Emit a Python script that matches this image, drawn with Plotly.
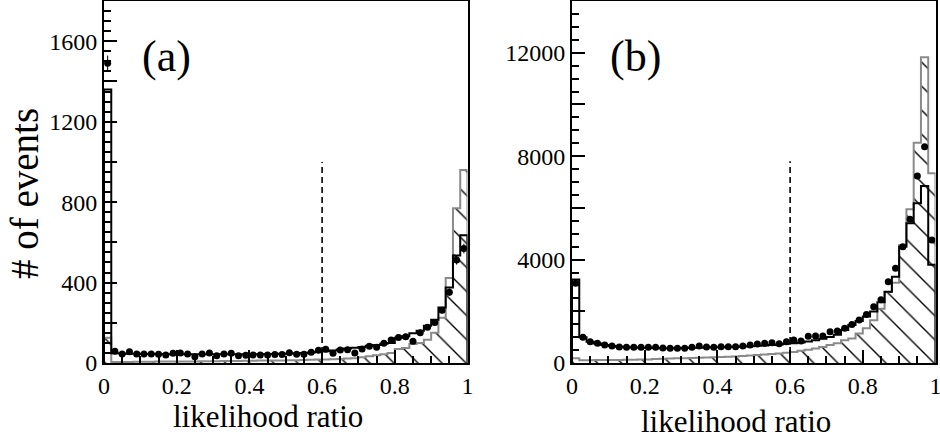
import numpy as np
import plotly.graph_objects as go

# bin edges of the likelihood ratio histograms (50 bins)
edges = np.linspace(0, 1, 51)
centers = (edges[:-1] + edges[1:]) / 2
cut = 0.6

# panel (a)
data_a = [1490, 59, 45, 56, 45, 45, 45, 43, 40, 48,
          50, 45, 31, 45, 50, 36, 45, 48, 36, 38,
          40, 40, 40, 42, 42, 51, 43, 43, 53, 64,
          68, 48, 65, 66, 50, 70, 83, 78, 98, 114,
          127, 131, 108, 151, 178, 201, 262, 352, 512, 569]
mc_a = [1360, 48, 47, 46, 46, 45, 45, 45, 44, 44,
        44, 44, 43, 43, 43, 43, 43, 43, 43, 44,
        44, 44, 45, 45, 46, 47, 48, 50, 52, 55,
        58, 62, 67, 72, 76, 80, 86, 90, 96, 100,
        125, 133, 148, 160, 185, 215, 276, 376, 535, 635]
sig_a = [125, 5, 5, 5, 6, 6, 6, 7, 7, 7,
         8, 8, 8, 9, 9, 9, 10, 10, 10, 11,
         11, 12, 12, 13, 13, 14, 14, 15, 16, 17,
         18, 19, 20, 22, 23, 28, 33, 38, 44, 50,
         70, 75, 95, 100, 115, 150, 225, 423, 770, 960]
cut_height_a = 1000

# panel (b)
data_b = [3080, 994, 824, 760, 696, 657, 620, 607, 607, 607,
          607, 607, 580, 568, 568, 575, 610, 657, 615, 610,
          630, 630, 630, 657, 696, 735, 760, 786, 740, 824,
          889, 850, 1030, 1040, 1044, 1210, 1240, 1340, 1490, 1663,
          1875, 2180, 2450, 3144, 3662, 4497, 5557, 7231, 8364, 4756]
mc_b = [3230, 1000, 820, 750, 700, 660, 630, 610, 600, 590,
        585, 580, 575, 575, 575, 580, 585, 590, 600, 605,
        610, 620, 630, 640, 650, 665, 680, 700, 720, 740,
        760, 790, 830, 880, 940, 1010, 1090, 1280, 1470, 1620,
        1800, 1990, 2350, 2760, 3340, 4500, 5400, 6180, 6850, 3800]
sig_b = [180, 110, 110, 115, 115, 120, 120, 125, 130, 135,
         140, 150, 160, 170, 180, 185, 190, 200, 210, 220,
         230, 240, 255, 270, 290, 310, 330, 350, 370, 400,
         430, 470, 510, 560, 620, 700, 760, 880, 950, 1140,
         1340, 1650, 2100, 2750, 3100, 4560, 5950, 8520, 11820, 7340]
cut_height_b = 7800

FONT = "Liberation Serif, Times New Roman, serif"


def step(vals):
    # closed step outline of a histogram
    x = np.concatenate([[edges[0]], edges, [edges[-1]]])
    y = np.concatenate([[0], vals, [vals[-1], 0]])
    return x, y


fig = go.Figure()

panels = [
    (data_a, mc_a, sig_a, cut_height_a, "x", "y"),
    (data_b, mc_b, sig_b, cut_height_b, "x2", "y2"),
]
for data, mc, sig, cut_h, xa, ya in panels:
    sx, sy = step(sig)
    fig.add_trace(go.Scatter(
        x=sx, y=sy, mode="lines", line=dict(color="#8a8a8a", width=2, shape="hv"),
        fill="tozeroy", fillcolor="rgba(0,0,0,0)",
        fillpattern=dict(shape="\\", fgcolor="black", bgcolor="rgba(0,0,0,0)",
                         size=17, solidity=0.08, fillmode="replace"),
        xaxis=xa, yaxis=ya, showlegend=False,
    ))
    mx, my = step(mc)
    fig.add_trace(go.Scatter(
        x=mx, y=my, mode="lines", line=dict(color="black", width=2, shape="hv"),
        xaxis=xa, yaxis=ya, showlegend=False,
    ))
    fig.add_trace(go.Scatter(
        x=[cut, cut], y=[0, cut_h], mode="lines",
        line=dict(color="black", width=1.6, dash="6px,4px"),
        xaxis=xa, yaxis=ya, showlegend=False,
    ))
    fig.add_trace(go.Scatter(
        x=centers, y=data, mode="markers",
        marker=dict(color="black", size=7),
        error_y=dict(type="data", array=np.sqrt(data), color="black", thickness=1, width=0),
        xaxis=xa, yaxis=ya, showlegend=False,
    ))

xcommon = dict(range=[0, 1], tick0=0, dtick=0.2, ticks="inside", ticklen=13, tickwidth=2,
               tickcolor="black", showline=True, linecolor="black", linewidth=2, mirror=True,
               showgrid=False, zeroline=False, automargin=False, ticklabeloverflow="allow",
               tickfont=dict(family=FONT, size=24, color="black"),
               minor=dict(tickmode="linear", tick0=0, dtick=0.05, ticks="inside",
                          ticklen=7, tickwidth=2, tickcolor="black", showgrid=False))


def yaxis_opts(top, major, label_step, minor_step):
    vals = list(range(0, top + 1, major))
    text = [str(v) if v % label_step == 0 else "" for v in vals]
    return dict(range=[0, top], tickmode="array", tickvals=vals, ticktext=text,
                ticks="inside", ticklen=13, tickwidth=2, tickcolor="black",
                showline=True, linecolor="black", linewidth=2, mirror=True,
                showgrid=False, zeroline=False, automargin=False, ticklabeloverflow="allow",
                tickfont=dict(family=FONT, size=24, color="black"),
                minor=dict(tickmode="linear", tick0=0, dtick=minor_step, ticks="inside",
                           ticklen=7, tickwidth=2, tickcolor="black", showgrid=False))


def label(text, xpx, ypx, size, angle=0):
    return dict(text=text, x=xpx / 940, y=1 - ypx / 439, xref="paper", yref="paper",
                xanchor="center", yanchor="middle", textangle=angle,
                showarrow=False, font=dict(size=size, family=FONT, color="black"))


ydom = [77 / 439, 1]
fig.update_layout(
    width=940, height=440,
    margin=dict(l=0, r=0, t=1, b=0, autoexpand=False),
    plot_bgcolor="white", paper_bgcolor="white",
    font=dict(family=FONT, color="black"),
    xaxis=dict(domain=[104 / 940, 467.5 / 940], anchor="y", **xcommon),
    xaxis2=dict(domain=[572 / 940, 935.5 / 940], anchor="y2", **xcommon),
    yaxis=dict(domain=ydom, anchor="x", **yaxis_opts(1800, 200, 400, 50)),
    yaxis2=dict(domain=ydom, anchor="x2", **yaxis_opts(14000, 2000, 4000, 500)),
    annotations=[
        label("(a)", 166, 56, 44),
        label("(b)", 635, 56, 44),
        label("likelihood ratio", 268, 415, 31),
        label("likelihood ratio", 736, 420, 31),
        label("# of events", 24, 193, 39, angle=-90),
    ],
)

fig.write_html(
    "out.html",
    config={"displayModeBar": False},
    post_script="document.body.style.margin='0';",
)
